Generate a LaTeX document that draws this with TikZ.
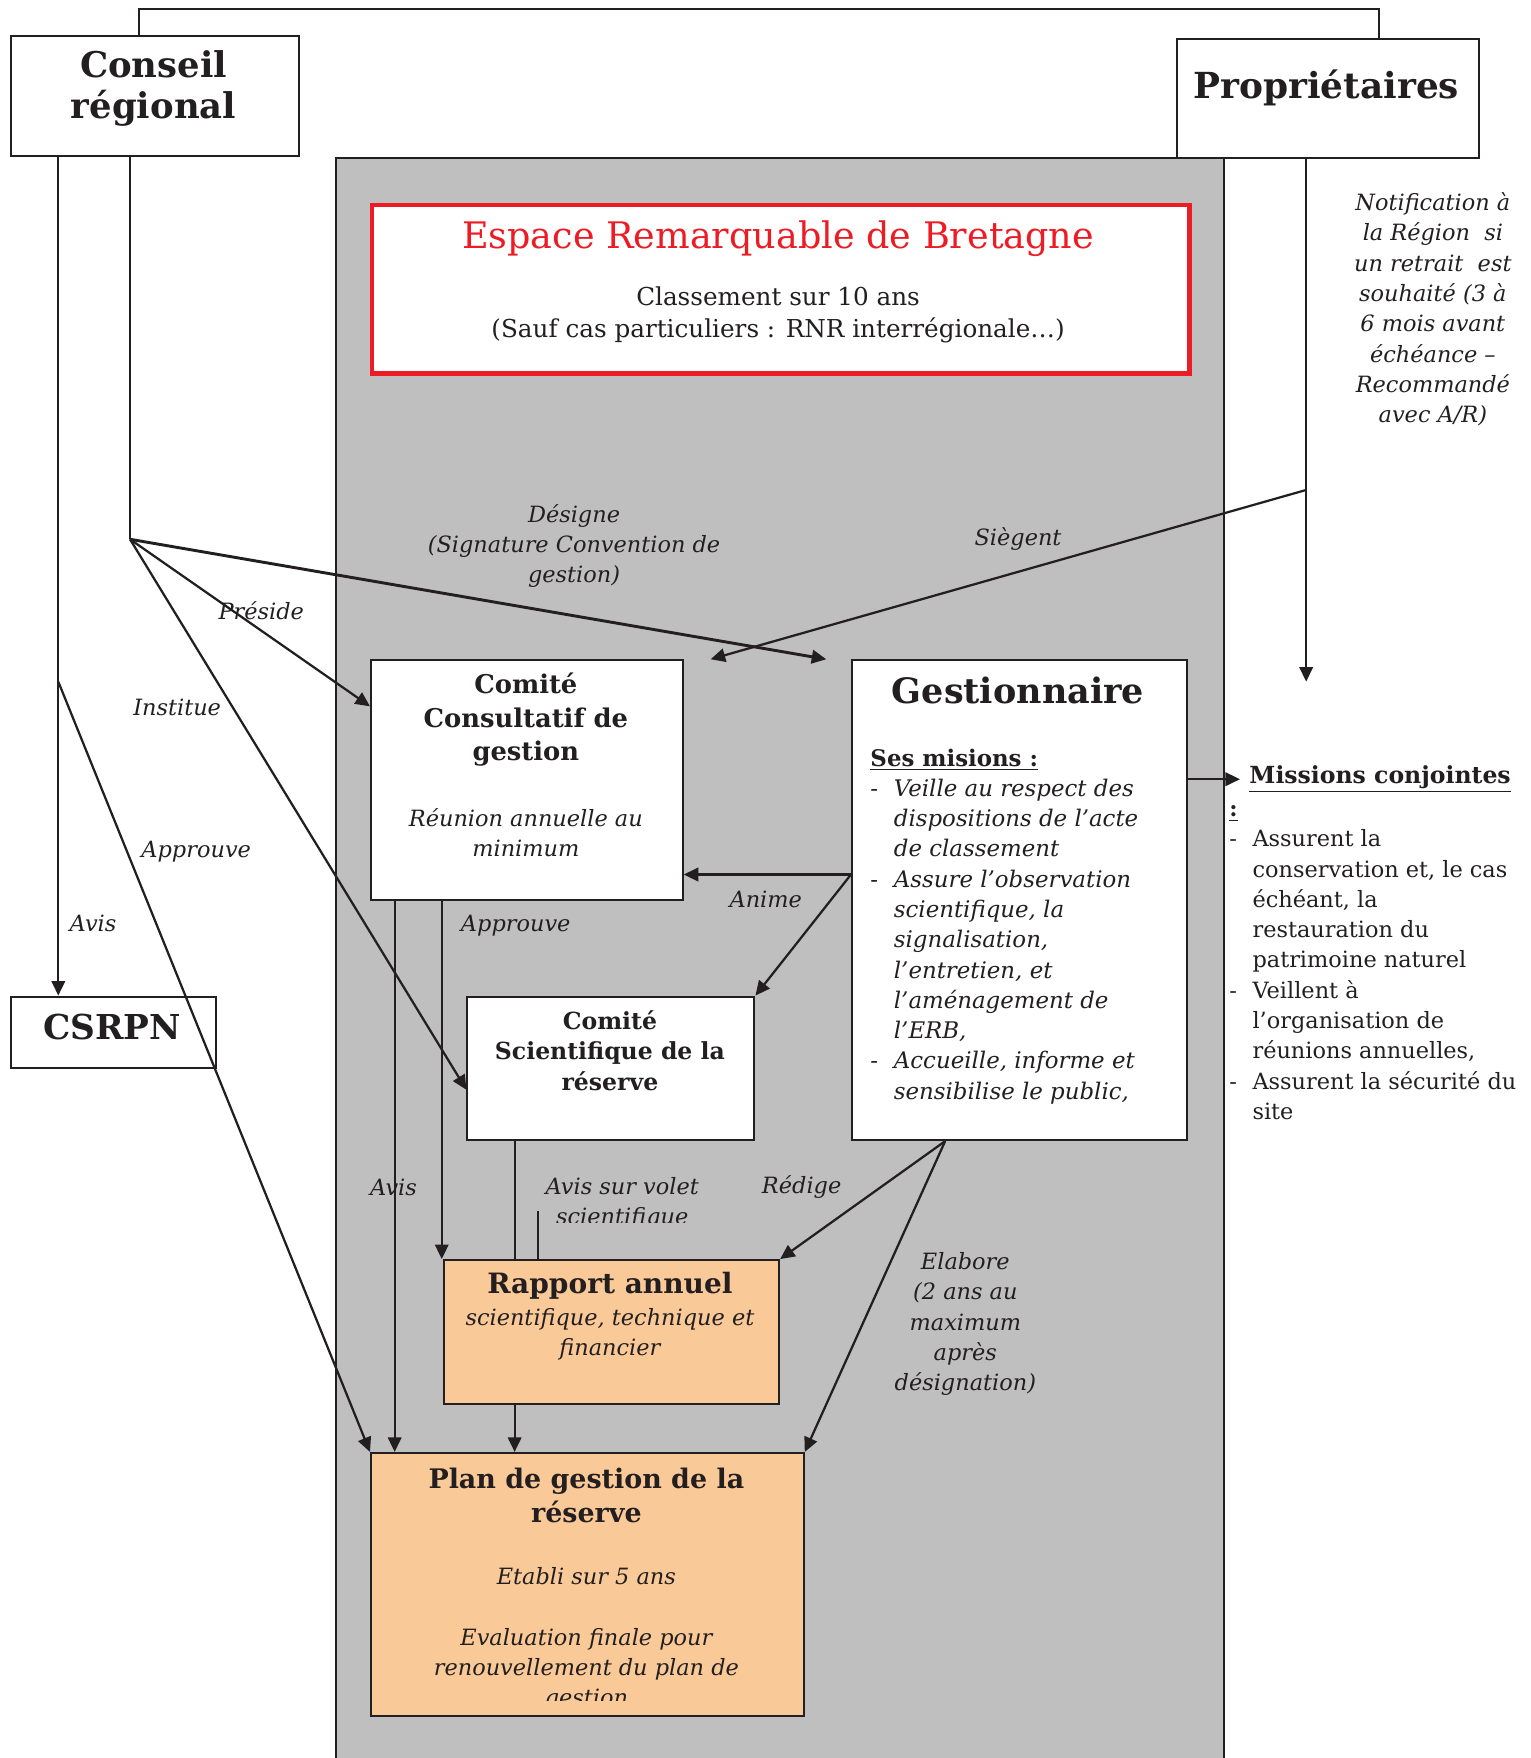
\documentclass[tikz,border=0pt]{standalone}
\usepackage{fontspec}
\setmainfont{DejaVu Serif}
\usepackage{array}
\usepackage{xcolor}
\usepackage{tikz}
\usetikzlibrary{calc}
\usetikzlibrary{arrows.meta}
\usetikzlibrary{positioning}

\definecolor{grisfond}{RGB}{191,191,191}
\definecolor{rougeerb}{RGB}{237,28,36}
\definecolor{orangeboite}{RGB}{250,201,152}
\definecolor{encre}{RGB}{35,31,32}

\tikzset{
  boite/.style={draw=encre, line width=0.9pt, fill=white, inner sep=0pt, anchor=north west},
  titre/.style={font=\bfseries\fontsize{15.3}{18.5}\selectfont, align=center, text=encre},
  gras/.style={font=\bfseries\fontsize{11}{15}\selectfont, align=center, text=encre},
  etiq/.style={font=\itshape\fontsize{10}{13.5}\selectfont, align=center, text=encre, inner sep=0pt},
  trait/.style={line width=1pt, draw=encre},
  fleche/.style={trait, ->},
}

\begin{document}
\begin{tikzpicture}[x=0.5pt,y=-0.5pt,>={Triangle[length=6.5pt,width=6pt]}]
  \useasboundingbox (0,0) rectangle (1365,1568);

  % zone grise
  \fill[grisfond] (300,141) rectangle (1092,1568);
  \draw[trait] (300,1568) -- (300,141) -- (1092,141) -- (1092,1568);

  % boites
  \node[boite, minimum width=128.5pt, minimum height=53.5pt] (cr) at (9,31) {};
  \node[boite, minimum width=134.5pt, minimum height=53pt] (prop) at (1049,34) {};
  \node[boite, draw=rougeerb, line width=2pt, minimum width=364.5pt, minimum height=75pt] (erb) at (330,181) {};
  \node[boite, minimum width=91.5pt, minimum height=32pt] (csrpn) at (9,888) {};
  \node[boite, minimum width=139pt, minimum height=107pt] (ccg) at (330,588) {};
  \node[boite, minimum width=149.5pt, minimum height=214pt] (gest) at (759,588) {};
  \node[boite, minimum width=128pt, minimum height=64pt] (csr) at (416,888) {};
  \node[boite, fill=orangeboite, minimum width=149.5pt, minimum height=64pt] (rapp) at (395,1123) {};
  \node[boite, fill=orangeboite, minimum width=193pt, minimum height=117.5pt] (plan) at (330,1295) {};

  % textes des boites
  \node[titre, font=\bfseries\fontsize{15.8}{18.5}\selectfont] (crtxt) at (137,79) {Conseil\\régional};
  \node[titre, font=\bfseries\fontsize{16}{18.5}\selectfont] (proptxt) at (1183,78) {Propriétaires};
  \node[font=\fontsize{16.3}{20}\selectfont, text=rougeerb] (erbtitre) at (694,213) {Espace Remarquable de Bretagne};
  \node[font=\fontsize{11}{14.5}\selectfont, align=center, text=encre] (erbsous) at (694,281)
    {Classement sur 10 ans\\(Sauf cas particuliers : RNR interrégionale…)};
  \node[titre] (csrpntxt) at (100,916) {CSRPN};
  \node[gras, font=\bfseries\fontsize{11.5}{15}\selectfont] (ccgtxt) at (469,642) {Comité\\Consultatif de\\gestion};
  \node[etiq] (ccgsous) at (469,743) {Réunion annuelle au\\minimum};
  \node[titre, font=\bfseries\fontsize{15.6}{18}\selectfont] (gesttitre) at (908,616) {Gestionnaire};
  \node[anchor=north west, inner sep=0pt, text=encre, font=\fontsize{10.2}{13.5}\selectfont] (gestmis) at (776,664) {%
    \begin{tabular}{@{}l@{\hspace{7pt}}>{\itshape}l@{}}
      \multicolumn{2}{@{}l}{\bfseries\underline{Ses misions :}}\\
      - & Veille au respect des\\
        & dispositions de l’acte\\
        & de classement\\
      - & Assure l’observation\\
        & scientifique, la\\
        & signalisation,\\
        & l’entretien, et\\
        & l’aménagement de\\
        & l’ERB,\\
      - & Accueille, informe et\\
        & sensibilise le public,
    \end{tabular}};
  \node[gras, font=\bfseries\fontsize{10.5}{13.5}\selectfont] (csrtxt) at (544,937) {Comité\\Scientifique de la\\réserve};
  \node[gras, font=\bfseries\fontsize{12.5}{15}\selectfont] (rapptitre) at (544,1147) {Rapport annuel};
  \node[etiq] (rappsous) at (544,1190) {scientifique, technique et\\financier};
  \node[gras, font=\bfseries\fontsize{12}{15}\selectfont] (plantitre) at (523,1334) {Plan de gestion de la\\réserve};
  \node[etiq] (planetabli) at (523,1406) {Etabli sur 5 ans};
  \begin{scope}
    \clip (330,1440) rectangle (716,1517);
    \node[etiq] (planeval) at (523,1489) {Evaluation finale pour\\renouvellement du plan de\\gestion};
  \end{scope}

  % missions conjointes
  \node[anchor=west, inner xsep=4pt, inner ysep=0pt, text=encre, font=\bfseries\fontsize{10.5}{13.5}\selectfont]
    (mistitre) at (1106,695) {\underline{Missions conjointes}};
  \node[anchor=north west, inner sep=0pt, text=encre, font=\fontsize{10}{13.5}\selectfont] (mislist) at (1096,709) {%
    \begin{tabular}{@{}l@{\hspace{7pt}}l@{}}
      \multicolumn{2}{@{}l}{\bfseries\underline{:}}\\
      - & Assurent la\\
        & conservation et, le cas\\
        & échéant, la\\
        & restauration du\\
        & patrimoine naturel\\
      - & Veillent à\\
        & l’organisation de\\
        & réunions annuelles,\\
      - & Assurent la sécurité du\\
        & site
    \end{tabular}};
  \node[etiq] (notif) at (1278,276)
    {Notification à\\la Région~ si\\un retrait~ est\\souhaité (3 à\\6 mois avant\\échéance –\\Recommandé\\avec A/R)};

  % liaisons
  \coordinate (hautG) at (124,8);
  \coordinate (hautD) at (1230,8);
  \coordinate (j1) at (116,481);
  \coordinate (j2) at (52,608);
  \coordinate (j3) at (1165,437);
  \coordinate (notifbas) at (1165,608);

  \draw[trait] (hautG |- cr.north) -- (hautG) -- (hautD) -- (hautD |- prop.north);
  \draw[fleche] (j2 |- cr.south) -- (j2 |- csrpn.north);
  \draw[fleche] (j2) -- (plan.north west);
  \draw[trait] (j1 |- cr.south) -- (j1);
  \draw[fleche, line width=1.3pt] (j1) -- ($(gest.north west)+(-22,0)$);
  \draw[fleche] (j1) -- ($(ccg.north west)+(0,42)$);
  \draw[fleche] (j1) -- ($(csr.north west)+(0,84)$);

  \draw[fleche] (notifbas |- prop.south) -- (notifbas);
  \draw[fleche] (j3) -- ($(ccg.north east)+(24,0)$);
  \draw[fleche] (gest.east |- mistitre.west) -- (mistitre.west);

  \draw[fleche] ($(gest.north west)+(0,192)$) coordinate (anim) -- (anim -| ccg.east);
  \draw[fleche] (anim) -- (csr.north east);

  \draw[fleche] ($(ccg.south west)+(22,0)$) coordinate (cc1) -- (cc1 |- plan.north);
  \draw[fleche] ($(ccg.south west)+(64,0)$) coordinate (cc2) -- (cc2 |- rapp.north);
  \draw[trait] ($(csr.south west)+(43,0)$) coordinate (cs1) -- (cs1 |- rapp.north);
  \draw[trait] ($(rapp.north west)+(85,-43)$) -- ($(rapp.north west)+(85,0)$);
  \draw[fleche] (cs1 |- rapp.south) -- (cs1 |- plan.north);

  \draw[fleche] ($(gest.south west)+(84,0)$) coordinate (gs1) -- (rapp.north east);
  \draw[fleche] (gs1) -- (plan.north east);

  % etiquettes
  \node[etiq] (lavis) at (83,824) {Avis};
  \node[etiq] (ldesigne) at (512,487) {Désigne\\(Signature Convention de\\gestion)};
  \node[etiq] (lpreside) at (233,545) {Préside};
  \node[etiq] (linstitue) at (158,631) {Institue};
  \node[etiq] (lapprouve) at (175,760) {Approuve};
  \node[etiq] (lsiegent) at (908,481) {Siègent};
  \node[etiq] (lanime) at (683,802) {Anime};
  \node[etiq] (lapprouve2) at (460,826) {Approuve};
  \node[etiq] (lavis2) at (351,1059) {Avis};
  \begin{scope}
    \clip (470,1040) rectangle (650,1090);
    \node[etiq] (lvolet) at (555,1073) {Avis sur volet\\scientifique};
  \end{scope}
  \node[etiq] (lredige) at (715,1059) {Rédige};
  \node[etiq] (lelabore) at (861,1181) {Elabore\\(2 ans au\\maximum\\après\\désignation)};
\end{tikzpicture}
\end{document}
